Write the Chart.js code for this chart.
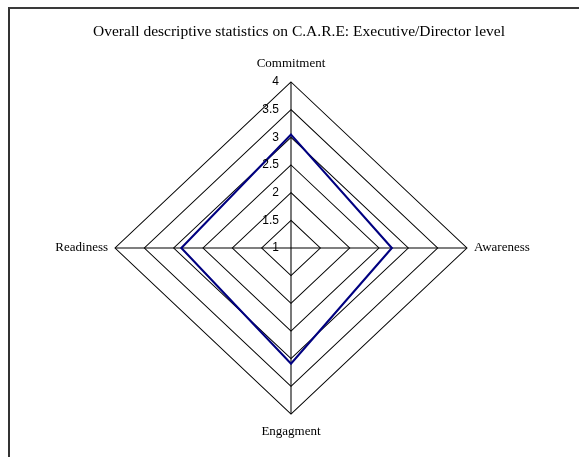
<!DOCTYPE html>
<html>
<head>
<meta charset="utf-8">
<script src="https://cdn.jsdelivr.net/npm/chart.js@4.4.0/dist/chart.umd.min.js"></script>
<style>
    body { margin: 0; background: #fff; overflow: hidden; }
    .frame { position: absolute; left: 8px; top: 7px; width: 620px; height: 520px; border-left: 2px solid #333; border-top: 2px solid #3a3a3a; }
    #radarChart { position: absolute; left: 0; top: 0; }
</style>
</head>
<body>
<div class="frame"></div>
<canvas id="radarChart" width="579" height="457"></canvas>
<script>
//============================================= Data =============================================//
const chartTitle = 'Overall descriptive statistics on C.A.R.E: Executive/Director level';
const categories = ['Commitment', 'Awareness', 'Engagment', 'Readiness'];
const meanScores = [3.05, 2.72, 3.09, 2.87];
const tickValues = [1, 1.5, 2, 2.5, 3, 3.5, 4];

// the source plot is a bit wider than tall
const STRETCH_X = 1.06;

//============================================= Labels plugin =============================================//
const careLabels = {
    id: 'careLabels',
    beforeDraw(chart) {
        const { ctx } = chart;
        const r = chart.scales.r;
        ctx.save();
        ctx.translate(r.xCenter, 0);
        ctx.scale(STRETCH_X, 1);
        ctx.translate(-r.xCenter, 0);
    },
    afterDatasetsDraw(chart) {
        chart.ctx.restore();
    },
    afterDraw(chart) {
        const { ctx } = chart;
        const r = chart.scales.r;
        const sx = (x) => r.xCenter + (x - r.xCenter) * STRETCH_X;

        ctx.save();
        ctx.fillStyle = '#000';
        ctx.textBaseline = 'middle';

        ctx.font = '15.5px "Liberation Serif", "Times New Roman", serif';
        ctx.textAlign = 'center';
        ctx.fillText(chartTitle, 299, 32);

        ctx.font = '13px "Liberation Serif", "Times New Roman", serif';
        categories.forEach((name, i) => {
            const p = r.getPointPosition(i, r.drawingArea);
            const dx = p.x - r.xCenter;
            const dy = p.y - r.yCenter;
            let x = sx(p.x);
            let y = p.y;
            if (Math.abs(dx) < 1) {
                ctx.textAlign = 'center';
                y += dy < 0 ? -18 : 18;
            } else if (dx > 0) {
                ctx.textAlign = 'left';
                x += 7;
            } else {
                ctx.textAlign = 'right';
                x -= 7;
            }
            ctx.fillText(name, x, y);
        });

        ctx.font = '12px "Liberation Sans", Arial, sans-serif';
        ctx.textAlign = 'right';
        tickValues.forEach((v) => {
            ctx.fillText(String(v), r.xCenter - 12, r.yCenter - r.getDistanceFromCenterForValue(v));
        });
        ctx.restore();
    }
};

//============================================= Radar chart =============================================//
const radarData = {
    labels: categories,
    datasets: [{
        label: 'Executive/Director',
        data: meanScores,
        borderColor: '#000080',
        borderWidth: 2,
        backgroundColor: 'transparent',
        fill: false,
        pointRadius: 0,
        pointHoverRadius: 0
    }]
};

const radarConfig = {
    type: 'radar',
    data: radarData,
    options: {
        responsive: false,
        animation: false,
        layout: {
            padding: { top: 82, bottom: 43, left: 20, right: 17 }
        },
        plugins: {
            legend: { display: false },
            title: { display: false },
            tooltip: { enabled: false }
        },
        scales: {
            r: {
                min: 1,
                max: 4,
                ticks: {
                    stepSize: 0.5,
                    display: false
                },
                pointLabels: { display: false },
                grid: { color: '#000', lineWidth: 1 },
                angleLines: { color: '#000', lineWidth: 1 }
            }
        }
    },
    plugins: [careLabels]
};

new Chart(document.getElementById('radarChart'), radarConfig);
</script>
</body>
</html>
